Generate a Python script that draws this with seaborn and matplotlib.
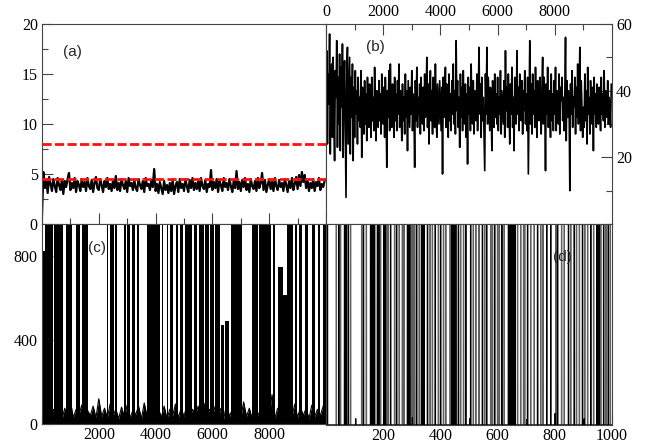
import numpy as np
import matplotlib
matplotlib.use("Agg")
import matplotlib.pyplot as plt
import seaborn as sns
from matplotlib.ticker import MultipleLocator, FixedLocator

# ---------------- data ----------------
a_step = 50
a_vals = [0.9, 5.2, 3.6, 4.4, 3.1, 4.7, 4.0, 3.3, 4.5, 3.8,
          3.2, 4.6, 3.9, 3.4, 4.4, 3.0, 4.3, 3.7, 4.5, 5.1,
          3.4, 4.1, 3.6, 4.6, 3.2, 4.3, 3.9, 3.3, 4.5, 3.7,
          4.2, 3.3, 4.6, 3.8, 3.5, 4.4, 3.2, 4.1, 4.7, 3.6,
          3.4, 4.5, 3.9, 3.2, 4.3, 3.7, 4.6, 3.5, 4.0, 3.3,
          4.4, 3.6, 4.8, 3.4, 4.1, 3.3, 4.5, 3.9, 3.5, 4.3,
          3.2, 4.6, 3.8, 4.1, 3.4, 4.4, 3.6, 3.3, 4.5, 3.9,
          3.5, 4.3, 3.2, 4.6, 3.8, 4.0, 3.4, 4.4, 3.7, 5.5,
          3.3, 4.0, 3.1, 4.2, 3.6, 3.0, 4.3, 3.4, 3.9, 3.1,
          4.1, 3.3, 4.4, 3.0, 3.8, 4.2, 3.2, 4.5, 3.6, 4.0,
          3.3, 4.5, 3.8, 3.2, 4.4, 3.6, 4.6, 3.4, 4.1, 3.5,
          4.3, 3.3, 4.6, 3.8, 3.5, 4.4, 3.2, 4.0, 3.7, 5.4,
          3.4, 4.2, 3.6, 4.5, 3.2, 4.3, 3.9, 3.3, 4.6, 3.7,
          4.1, 3.4, 4.5, 3.8, 3.2, 4.3, 3.6, 5.3, 3.5, 4.2,
          3.3, 4.4, 3.7, 4.6, 3.4, 4.0, 3.2, 4.5, 3.8, 3.5,
          4.3, 3.3, 4.6, 3.6, 4.1, 5.1, 3.4, 4.4, 3.2, 3.9,
          4.5, 3.5, 4.2, 3.3, 4.6, 3.8, 3.4, 4.4, 3.7, 4.1,
          3.3, 4.5, 3.9, 3.2, 4.3, 3.6, 4.6, 3.4, 4.0, 4.7,
          3.5, 4.9, 3.8, 5.2, 4.2, 4.9, 3.6, 4.4, 3.3, 4.1,
          3.6, 4.5, 3.3, 4.2, 3.8, 4.6, 3.4, 4.0, 3.7, 4.3]
a_thresholds = [8.0, 4.5]

b_step = 25
b_vals = [28, 52, 24, 45, 36, 57, 21, 40, 48, 26, 50, 33, 19, 46, 38, 55, 23, 44, 30, 51,
          22, 47, 35, 54, 20, 42, 49, 27, 8, 45, 53, 24, 38, 50, 21, 44, 32, 48, 19, 41,
          26, 46, 33, 40, 24, 44, 31, 38, 29, 46, 20, 41, 36, 27, 43, 30, 39, 25, 44, 34,
          29, 42, 35, 26, 44, 31, 38, 28, 47, 33, 25, 40, 36, 29, 43, 31, 39, 27, 45, 34,
          30, 41, 26, 44, 35, 17, 40, 32, 46, 28, 48, 34, 29, 42, 37, 26, 44, 31, 39, 28,
          43, 33, 48, 29, 40, 35, 25, 42, 31, 38, 27, 45, 32, 40, 22, 43, 36, 29, 41, 33,
          46, 28, 39, 34, 17, 43, 31, 47, 29, 38, 33, 42, 27, 44, 35, 30, 41, 28, 45, 32,
          38, 50, 29, 42, 24, 37, 46, 31, 40, 27, 44, 34, 29, 48, 33, 26, 42, 36, 30, 43,
          35, 28, 41, 15, 44, 32, 38, 47, 29, 42, 35, 26, 45, 31, 39, 28, 43, 33, 48, 30,
          40, 27, 55, 34, 43, 29, 38, 23, 45, 32, 41, 28, 46, 35, 30, 42, 26, 39, 18, 44,
          33, 41, 28, 48, 35, 30, 43, 27, 40, 36, 31, 45, 28, 39, 53, 33, 42, 26, 44, 31,
          38, 27, 16, 45, 33, 53, 30, 44, 36, 28, 41, 34, 22, 43, 37, 29, 45, 32, 39, 30,
          44, 28, 38, 33, 46, 27, 40, 35, 30, 43, 26, 52, 34, 41, 29, 45, 36, 24, 42, 33,
          47, 29, 38, 22, 44, 35, 30, 52, 33, 41, 28, 45, 36, 31, 43, 27, 40, 34, 46, 30,
          39, 28, 44, 15, 36, 55, 30, 42, 27, 45, 33, 40, 29, 47, 35, 26, 43, 38, 31, 44,
          34, 27, 41, 50, 30, 44, 36, 16, 42, 33, 47, 29, 40, 35, 26, 45, 31, 39, 28, 43,
          33, 47, 28, 40, 36, 30, 45, 27, 41, 37, 44, 31, 38, 28, 39, 56, 25, 43, 32, 40,
          36, 10, 42, 33, 46, 29, 38, 35, 44, 27, 41, 32, 48, 30, 39, 53, 28, 43, 34, 26,
          35, 29, 45, 31, 40, 24, 47, 33, 38, 27, 43, 35, 30, 41, 22, 44, 33, 39, 29, 42,
          34, 30, 41, 36, 28, 44, 33, 39, 31, 46, 29, 40, 35, 32, 43, 30, 38, 34, 29, 42]

c_step = 100
c_base = [60, 30, 80, 25, 70, 40, 95, 20, 75, 35,
          110, 30, 70, 45, 90, 25, 65, 40, 85, 30,
          120, 35, 75, 30, 95, 40, 70, 25, 80, 35,
          90, 30, 65, 45, 85, 25, 100, 35, 70, 130,
          40, 75, 30, 85, 25, 70, 40, 95, 30, 75,
          35, 90, 25, 70, 45, 85, 30, 100, 35, 70,
          40, 85, 30, 75, 25, 95, 35, 70, 40, 80,
          30, 105, 35, 75, 25, 85, 40, 70, 30, 90,
          35, 140, 30, 75, 40, 85, 25, 70, 35, 95,
          30, 80, 40, 75, 25, 90, 35, 70, 40, 85, 50]
# excursions of series (c): start, end, peak value (2000 = off scale)
c_burst_start = [35, 120, 433, 832, 1195, 1394, 2273, 2390, 2578, 2870, 2990, 3166, 3341,
                 3693, 4221, 4397, 4513, 4724, 4865, 5052, 5345, 5521, 5756, 5932, 6108,
                 6290, 6460, 6670, 7397, 7630, 8125, 8322, 8498, 8639, 8910, 9061, 9261,
                 9497, 9730, 9905]
c_burst_end = [120, 397, 749, 1042, 1335, 1628, 2332, 2519, 2638, 2965, 3082, 3258, 3399,
               4161, 4277, 4453, 4630, 4805, 4960, 5287, 5463, 5697, 5873, 6049, 6284,
               6400, 6576, 7045, 7600, 8055, 8206, 8498, 8617, 8850, 8969, 9145, 9378,
               9613, 9789, 10000]
c_burst_peak = [820, 2000, 2000, 2000, 2000, 2000, 2000, 2000, 2000, 2000, 2000, 2000, 2000,
                2000, 2000, 2000, 2000, 2000, 2000, 2000, 2000, 2000, 2000, 2000, 2000,
                470, 490, 2000, 2000, 2000, 2000, 745, 615, 2000, 2000, 2000, 2000,
                2000, 2000, 2000]

d_len = 1000
d_spike_value = 5000
d_black = [2, 5, 45, 65, 67, 69, 71, 78, 131, 156, 158, 160, 162, 164, 170, 180, 182, 185,
           203, 205, 207, 209, 226, 247, 285, 287, 289, 291, 293, 317, 334, 336, 338, 340,
           343, 355, 382, 401, 440, 442, 444, 446, 448, 450, 452, 454, 463, 489, 506, 547,
           562, 590, 615, 638, 640, 643, 645, 647, 650, 652, 655, 657, 659, 661, 705, 740,
           772, 786, 810, 848, 868, 897, 926, 947, 949, 951, 953, 955, 971, 987]
d_gray = [36, 51, 86, 125, 141, 191, 217, 240, 256, 267, 273, 298, 304, 310, 326, 364, 372,
          393, 411, 419, 434, 471, 481, 515, 524, 535, 555, 576, 582, 600, 606, 623, 670,
          681, 691, 695, 716, 728, 751, 759, 804, 824, 833, 856, 876, 886, 905, 915, 936,
          961, 979, 994]
d_short_pos = [104, 302, 503, 702, 801, 903]
d_short_val = [30, 35, 30, 25, 55, 30]

# ---------------- style ----------------
sns.set_style("ticks")
plt.rcParams['font.family'] = ['Liberation Serif', 'DejaVu Serif']
plt.rcParams['axes.edgecolor'] = '#444444'
plt.rcParams['axes.linewidth'] = 0.8
plt.rcParams['xtick.color'] = '#444444'
plt.rcParams['ytick.color'] = '#444444'
plt.rcParams['xtick.labelcolor'] = 'black'
plt.rcParams['ytick.labelcolor'] = 'black'

W, H = 646, 446
fig = plt.figure(figsize=(W / 100, H / 100), dpi=100)
L, M, R = 42 / W, 326 / W, 612 / W
T, Mid, B = 1 - 24 / H, 1 - 224 / H, 1 - 424 / H
ax_a = fig.add_axes([L, Mid, M - L, T - Mid])
ax_b = fig.add_axes([M, Mid, R - M, T - Mid])
ax_c = fig.add_axes([L, B, M - L, Mid - B])
ax_d = fig.add_axes([M, B - 1 / H, R - M, Mid - B + 1 / H])

FS = 11.5
MAJ, MIN = 8, 4

def common(ax):
    ax.tick_params(which='both', direction='in', labelsize=FS, width=0.8)
    ax.tick_params(which='major', length=MAJ, pad=3)
    ax.tick_params(which='minor', length=MIN)
    for s in ax.spines.values():
        s.set_visible(True)

# ---- (a)
xa = np.arange(len(a_vals)) * a_step
sns.lineplot(x=xa, y=a_vals, ax=ax_a, color='black', lw=1.6, estimator=None)
for v in a_thresholds:
    ax_a.axhline(v, color='#ff1010', lw=2.0, linestyle=(0, (3.3, 1.2)), zorder=5)
ax_a.set_xlim(0, 10000)
ax_a.set_ylim(0, 20)
common(ax_a)
ax_a.yaxis.set_major_locator(MultipleLocator(5))
ax_a.yaxis.set_minor_locator(MultipleLocator(2.5))
ax_a.xaxis.set_major_locator(MultipleLocator(2000))
ax_a.xaxis.set_minor_locator(MultipleLocator(1000))
ax_a.tick_params(axis='x', which='both', bottom=True, top=False, labelbottom=False)
ax_a.tick_params(axis='y', which='both', left=True, right=False)

# ---- (b)
xb = np.arange(len(b_vals)) * b_step
sns.lineplot(x=xb, y=b_vals, ax=ax_b, color='black', lw=1.2, estimator=None)
ax_b.set_xlim(0, 10000)
ax_b.set_ylim(0, 60)
common(ax_b)
ax_b.xaxis.tick_top()
ax_b.xaxis.set_major_locator(FixedLocator([0, 2000, 4000, 6000, 8000]))
ax_b.xaxis.set_minor_locator(MultipleLocator(1000))
ax_b.yaxis.tick_right()
ax_b.yaxis.set_major_locator(FixedLocator([20, 40, 60]))
ax_b.yaxis.set_minor_locator(MultipleLocator(10))
ax_b.tick_params(axis='x', which='both', top=True, bottom=False, labeltop=True, labelbottom=False)
ax_b.tick_params(axis='y', which='both', right=True, left=False, labelright=True, labelleft=False)

# ---- (c)
xc = np.arange(len(c_base)) * c_step
ax_c.fill_between(xc, 0, c_base, color='black', lw=0)
sns.lineplot(x=xc, y=c_base, ax=ax_c, color='black', lw=0.8, estimator=None)
ax_c.bar(c_burst_start, c_burst_peak,
         width=np.array(c_burst_end) - np.array(c_burst_start),
         align='edge', color='black', linewidth=0)
ax_c.set_xlim(0, 10000)
ax_c.set_ylim(0, 950)
common(ax_c)
ax_c.xaxis.set_major_locator(FixedLocator([2000, 4000, 6000, 8000]))
ax_c.xaxis.set_minor_locator(MultipleLocator(1000))
ax_c.yaxis.set_major_locator(FixedLocator([0, 400, 800]))
ax_c.yaxis.set_minor_locator(MultipleLocator(200))
ax_c.tick_params(axis='x', which='both', top=False, pad=2)
ax_c.tick_params(axis='y', which='both', right=False)

# ---- (d)
d_y_black = np.zeros(d_len + 1)
d_y_black[d_black] = d_spike_value
d_y_black[d_short_pos] = d_short_val
d_y_gray = np.zeros(d_len + 1)
d_y_gray[d_gray] = d_spike_value
xd = np.arange(d_len + 1)
sns.lineplot(x=xd, y=d_y_gray, ax=ax_d, color='#606060', lw=0.8, estimator=None)
sns.lineplot(x=xd, y=d_y_black, ax=ax_d, color='black', lw=0.8, estimator=None)
ax_d.set_xlim(0, 1000)
ax_d.set_ylim(0, 950)
common(ax_d)
ax_d.xaxis.set_major_locator(FixedLocator([200, 400, 600, 800, 1000]))
ax_d.xaxis.set_minor_locator(MultipleLocator(100))
ax_d.tick_params(axis='x', which='both', top=False, pad=2)
ax_d.tick_params(axis='y', which='both', left=False, right=False, labelleft=False)

for ax in (ax_a, ax_b, ax_c, ax_d):
    ax.set_xlabel('')
    ax.set_ylabel('')

# panel labels
lab_kw = dict(ha='center', va='center', fontsize=11, family=['Liberation Sans', 'DejaVu Sans'])
fig.text(72 / W, 1 - 52 / H, '(a)', **lab_kw)
fig.text(375 / W, 1 - 47 / H, '(b)', **lab_kw)
fig.text(97 / W, 1 - 248 / H, '(c)', **lab_kw)
fig.text(562 / W, 1 - 257 / H, '(d)', **lab_kw)

fig.savefig('out.png', dpi=100)
